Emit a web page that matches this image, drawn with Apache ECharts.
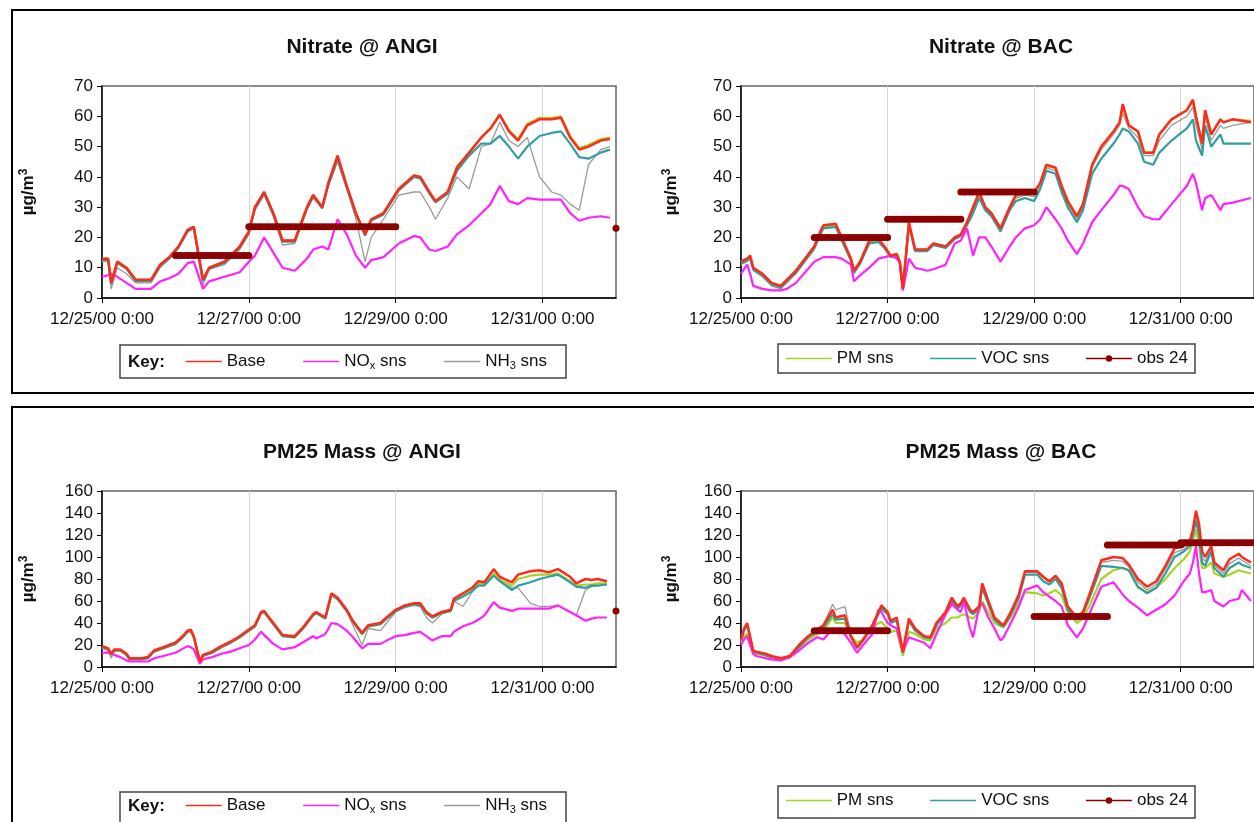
<!DOCTYPE html>
<html>
<head>
<meta charset="utf-8">
<script src="https://cdn.jsdelivr.net/npm/echarts@6/dist/echarts.min.js"></script>
<style>
html, body { margin: 0; padding: 0; background: #fff; }
#chart { width: 1254px; height: 822px; }
</style>
</head>
<body>
<div id="chart"></div>
<script>
// hours since 12/25/00 0:00
const xTickHours = [0, 48, 96, 144];
const xTickLabels = ['12/25/00 0:00', '12/27/00 0:00', '12/29/00 0:00', '12/31/00 0:00'];

// Nitrate @ ANGI
const hoursNitAngi = [0, 2, 3, 5, 8, 11, 16, 19, 22, 25, 28, 30, 33, 35, 40, 45, 48, 50, 53, 56, 59, 63, 67, 69, 72, 74, 77, 80, 83, 86, 88, 92, 97, 102, 104, 107, 109, 113, 116, 120, 124, 127, 130, 133, 136, 139, 143, 147, 150, 153, 156, 159, 163, 166];
const baseNitAngi = [13, 13, 5, 12, 10, 6, 6, 11, 13.5, 17, 22.5, 23.5, 6, 10, 12, 17, 22, 30, 35, 28, 19, 19, 30, 34, 30, 38, 47, 37, 28, 21, 26, 28, 36, 40.5, 40, 35, 32, 35, 43, 48, 53, 56, 60.5, 55, 52, 57, 59, 59, 59.5, 53, 49, 50, 52, 52.5];
const noxNitAngi = [7, 7.5, 8, 7, 5, 3, 3, 5.5, 6.5, 8, 11.5, 12, 3, 5.5, 7, 8.5, 12, 14, 20, 15, 10, 9, 13, 16, 17, 16, 26, 21, 14, 10, 12.5, 13.5, 18, 20.5, 20, 16, 15.5, 17, 21, 24, 28, 31, 37, 32, 31, 33, 32.5, 32.5, 32.5, 28, 25.5, 26.5, 27, 26.5];
const nh3NitAngi = [12, 12, 3, 10, 8, 5, 5, 10, 13, 16.5, 22, 23, 4, 9.5, 11, 16, 21, 29, 34, 27, 17.5, 18, 29, 33, 30, 37, 45, 36, 26, 12, 20, 26, 34, 35, 35, 30, 26, 33, 40, 36, 50, 51, 58, 52, 50, 53, 40, 35, 34, 31, 29, 44, 49, 50];
const pmNitAngi = [13, 13, 5, 12, 10, 6, 6, 11, 13.5, 17, 22.5, 23.5, 6, 10, 12, 17, 22, 30, 35, 28, 19, 19, 30, 34, 30, 38, 47, 37, 28, 21, 26, 28, 36, 40.5, 40, 35, 32, 35, 43.5, 48, 53, 56, 60.5, 55.5, 52.5, 57.5, 59.5, 59.5, 60, 53.5, 49.5, 50.5, 52.5, 53];
const vocNitAngi = [12.6, 12.6, 4.6, 11.6, 9.6, 5.6, 5.6, 10.6, 13, 16.6, 22, 23, 5.6, 9.6, 11.6, 16.6, 21.6, 29.6, 34.5, 27.6, 18.6, 18.6, 29.6, 33.5, 29.6, 37.5, 46, 36.5, 27.6, 20.6, 25.6, 27.6, 35.5, 40, 39.5, 34.5, 31.6, 34.5, 42, 47, 51, 51, 53.5, 50, 46, 50, 53.5, 54.5, 55, 51, 46.5, 46, 48, 49];
const obsNitAngi = [[24, 48, 14], [48, 96, 23.5], [168, 168, 23]];

// Nitrate @ BAC
const hoursNitBac = [0, 2, 3, 4, 7, 10, 13, 15, 18, 24, 26, 27, 31, 33, 36, 37, 39, 42, 45, 47, 49, 51, 52, 53, 55, 57, 61, 63, 67, 70, 72, 74, 76, 78, 80, 82, 85, 88, 90, 93, 96, 98, 100, 103, 105, 107, 110, 112, 115, 118, 122, 124, 125, 127, 130, 132, 135, 137, 141, 146, 148, 149, 151, 152, 154, 157, 158, 161, 167];
const baseNitBac = [12, 13, 14, 10, 8, 5, 4, 6, 9, 17, 22, 24, 24.5, 20, 13, 9, 12, 19, 19.5, 17, 14, 14.5, 12, 3, 25, 16, 16, 18, 17, 20, 21, 25, 30, 35, 30, 28, 23, 30, 34, 35, 35, 38, 44, 43, 37, 32, 27, 31, 44, 50, 55, 58, 64, 57, 55, 48, 48, 54, 59, 62, 65.5, 60, 51, 62, 54, 59, 58, 59, 58];
const noxNitBac = [8, 11, 8, 4, 3, 2.5, 2.5, 3, 5, 12, 13, 13.5, 13.5, 13, 11, 5.5, 7.5, 10, 13, 13.5, 14, 13, 12, 2.5, 13, 10, 9, 9.5, 11, 18, 19, 23, 14, 20, 20, 17, 12, 17, 20, 23, 24, 26, 30, 26, 23, 19, 14.5, 18, 25, 29, 34, 37, 37, 36, 30, 27, 26, 26, 31, 37, 41, 38, 29, 33, 34, 29, 31, 31.5, 33];
const nh3NitBac = [11, 12, 13, 9, 7, 4, 3, 5, 8, 16, 21, 23, 23.5, 19, 12, 8, 11, 18, 18.5, 16.5, 13.5, 14, 11.5, 3, 24, 15.5, 15.5, 17.5, 16.5, 19.5, 20.5, 24.5, 29, 34, 29, 27, 22, 29, 33, 34, 33.5, 37, 43, 42, 36, 31, 26, 30, 43, 49, 54, 57, 61, 56, 53, 47, 47, 52, 57, 60, 63, 57, 49, 60, 52, 57, 56, 57, 58];
const pmNitBac = [12, 13, 13.5, 10, 8, 5, 4, 6, 9, 17, 22, 23.5, 24, 19.5, 13, 9, 12, 18.5, 19, 17, 14, 14.5, 12, 3, 24.5, 16, 16, 18, 17, 20, 21, 25, 30, 34.5, 30, 28, 23, 30, 33.5, 34.5, 34.5, 38, 43.5, 43, 37, 32, 27, 31, 44, 50, 55, 58, 63.5, 57, 55, 48, 48, 54, 59, 62, 65, 60, 51, 62, 54, 59, 58, 59, 58.5];
const vocNitBac = [11.5, 12.5, 13, 9.5, 7.5, 4.5, 3.5, 5.5, 8.5, 16.5, 21, 23, 23.5, 19, 12.5, 8.5, 11.5, 18, 18.5, 16.5, 13.5, 14, 11.5, 3, 24, 15.5, 15.5, 17.5, 16.5, 19.5, 20.5, 24, 28, 33, 29, 27, 22, 29, 32, 33, 32, 36, 42, 41, 35, 30, 25, 29, 41, 46, 51, 54, 56, 55, 51, 45, 44, 48, 52, 56, 59, 52, 47, 57, 50, 54, 51, 51, 51];
const obsNitBac = [[24, 48, 20], [48, 72, 26], [72, 96, 35]];

// PM25 Mass @ ANGI
const hoursPmAngi = [0, 2, 3, 4, 6, 8, 9, 13, 15, 17, 20, 24, 26, 28, 29, 30, 32, 33, 36, 39, 42, 45, 48, 50, 52, 53, 56, 59, 63, 66, 69, 70, 73, 75, 77, 80, 82, 85, 87, 91, 93, 96, 99, 102, 104, 106, 108, 111, 114, 115, 118, 121, 123, 125, 128, 130, 134, 136, 140, 143, 146, 149, 153, 155, 158, 160, 162, 165];
const basePmAngi = [19, 17, 12, 16, 16, 12, 8, 8, 9, 15, 18, 22, 27, 33, 34, 28, 5, 11, 14, 19, 23, 28, 34, 38, 50, 51, 40, 29, 28, 37, 48, 50, 45, 67, 63, 52, 42, 31, 38, 40, 45, 52, 56, 58, 58, 50, 46, 50, 52, 62, 67, 72, 78, 77, 89, 82, 77, 84, 87, 88, 86, 89, 82, 76, 80, 79, 80, 78];
const noxPmAngi = [13, 13, 13, 11, 9, 6, 5, 5, 5, 8, 10, 13, 16, 19, 18, 16, 3, 7, 9, 12, 14, 17, 20, 25, 32, 29, 21, 16, 18, 23, 28, 26, 30, 40, 39, 33, 27, 17, 21, 21, 24, 28, 29, 31, 32, 28, 24, 28, 28, 32, 37, 40, 43, 47, 59, 54, 51, 53, 53, 53, 53, 56, 50, 47, 42, 44, 45, 45];
const nh3PmAngi = [17, 15, 8, 14, 15, 11, 7, 7, 8, 14, 17, 21, 26, 32, 33, 27, 4, 10, 13, 18, 22, 27, 33, 37, 49, 50, 39, 28, 27, 36, 47, 49, 44, 65, 61, 50, 38, 20, 35, 33, 40, 50, 54, 56, 55, 45, 40, 48, 51, 60, 55, 68, 76, 75, 84, 80, 72, 72, 58, 55, 55, 56, 50, 47, 70, 73, 74, 75];
const pmPmAngi = [18, 16, 11, 15, 15, 11, 7, 7, 8, 14, 17, 21, 26, 32, 33, 27, 5, 10, 13, 18, 22, 27, 33, 37, 49, 50, 39, 28, 27, 36, 47, 49, 44, 66, 62, 51, 41, 30, 37, 39, 44, 51, 55, 57, 57, 49, 45, 49, 51, 61, 66, 71, 76, 75, 85, 79, 74, 80, 83, 84, 84, 85, 78, 74, 75, 75, 76, 76];
const vocPmAngi = [18, 16, 11, 15, 15, 11, 7, 7, 8, 14, 17, 21, 26, 32, 33, 27, 5, 10, 13, 18, 22, 27, 33, 37, 49, 50, 39, 28, 27, 36, 47, 49, 44, 66, 62, 51, 41, 30, 37, 39, 44, 51, 55, 57, 56, 49, 45, 49, 51, 60, 64, 69, 74, 74, 83, 78, 70, 74, 77, 80, 82, 84, 77, 73, 72, 74, 74, 75];
const obsPmAngi = [[168, 168, 51]];

// PM25 Mass @ BAC
const hoursPmBac = [0, 1, 2, 4, 5, 8, 10, 13, 16, 19, 22, 25, 27, 30, 31, 34, 36, 38, 40, 43, 45, 46, 48, 49, 51, 53, 55, 57, 60, 62, 64, 67, 69, 71, 72, 73, 75, 76, 78, 79, 81, 83, 85, 86, 88, 91, 93, 97, 99, 101, 103, 105, 107, 110, 112, 114, 118, 122, 125, 127, 130, 133, 136, 139, 142, 145, 147, 148, 149, 150, 151, 152, 154, 155, 158, 160, 163, 164, 167];
const basePmBac = [25, 35, 40, 15, 14, 12, 10, 8, 10, 20, 28, 34, 38, 52, 45, 47, 28, 18, 25, 38, 50, 56, 50, 42, 45, 14, 44, 35, 28, 27, 40, 50, 63, 55, 58, 63, 52, 50, 55, 76, 60, 45, 40, 38, 48, 66, 87, 87, 82, 78, 83, 76, 55, 45, 50, 65, 97, 100, 99, 93, 80, 73, 78, 92, 108, 110, 115, 125, 142, 130, 105, 100, 110, 95, 88, 98, 103, 100, 95];
const noxPmBac = [20, 25, 28, 12, 10, 8, 7, 6, 9, 15, 22, 27, 25, 35, 33, 30, 22, 13, 20, 30, 52, 50, 40, 38, 35, 14, 27, 25, 22, 17, 30, 48, 57, 52, 50, 60, 35, 27, 55, 58, 45, 35, 24, 27, 38, 55, 70, 74, 68, 64, 60, 55, 38, 27, 35, 48, 73, 77, 66, 60, 54, 47, 52, 57, 65, 78, 85, 95, 110, 85, 68, 68, 70, 60, 55, 60, 62, 70, 60];
const nh3PmBac = [24, 34, 39, 14, 13, 11, 9, 7, 9, 19, 27, 33, 38, 57, 52, 55, 30, 17, 24, 37, 48, 54, 49, 41, 44, 13, 43, 34, 27, 26, 39, 49, 62, 54, 57, 62, 51, 49, 54, 74, 59, 44, 39, 37, 47, 65, 86, 86, 81, 77, 82, 75, 54, 44, 49, 64, 95, 97, 96, 91, 77, 70, 75, 89, 104, 107, 112, 122, 138, 126, 100, 96, 107, 93, 85, 94, 99, 97, 92];
const pmPmBac = [22, 28, 30, 12, 12, 10, 9, 7, 9, 17, 25, 30, 33, 45, 40, 40, 28, 22, 25, 35, 40, 41, 35, 32, 33, 10, 32, 30, 25, 24, 35, 40, 45, 45, 47, 48, 45, 44, 50, 60, 50, 40, 37, 36, 44, 58, 68, 67, 65, 67, 70, 65, 50, 40, 44, 55, 80, 88, 90, 88, 72, 68, 72, 80, 90, 98, 105, 115, 125, 110, 90, 90, 95, 85, 82, 84, 88, 87, 85];
const vocPmBac = [24, 33, 38, 14, 13, 11, 9, 7, 9, 18, 27, 32, 36, 48, 43, 44, 27, 17, 24, 36, 48, 53, 48, 40, 42, 13, 42, 33, 27, 26, 38, 48, 60, 53, 56, 60, 50, 48, 53, 72, 57, 43, 38, 37, 46, 63, 84, 84, 78, 75, 80, 72, 52, 43, 48, 62, 92, 91, 90, 88, 73, 67, 72, 85, 100, 105, 110, 120, 133, 120, 95, 92, 105, 90, 82, 90, 95, 93, 90];
const obsPmBac = [[24, 48, 33], [96, 120, 46], [120, 144, 111], [144, 168, 113]];

const FONT = '"Liberation Sans", Arial, sans-serif';
const colors = {
    base: '#ff2a1a',
    nox: '#ff22ff',
    nh3: '#9a9a9a',
    pm: '#a8d228',
    voc: '#2f9f9f',
    obs: '#8b0000',
};

const panels = [
    { title: 'Nitrate @ ANGI', left: 102, top: 86, height: 212, max: 70, step: 10, nameGap: 64,
      hours: hoursNitAngi, base: baseNitAngi, nox: noxNitAngi, nh3: nh3NitAngi, pm: pmNitAngi, voc: vocNitAngi, obs: obsNitAngi },
    { title: 'Nitrate @ BAC', left: 741, top: 86, height: 212, max: 70, step: 10, nameGap: 60,
      hours: hoursNitBac, base: baseNitBac, nox: noxNitBac, nh3: nh3NitBac, pm: pmNitBac, voc: vocNitBac, obs: obsNitBac },
    { title: 'PM25 Mass @ ANGI', left: 102, top: 491, height: 176, max: 160, step: 20, nameGap: 64,
      hours: hoursPmAngi, base: basePmAngi, nox: noxPmAngi, nh3: nh3PmAngi, pm: pmPmAngi, voc: vocPmAngi, obs: obsPmAngi },
    { title: 'PM25 Mass @ BAC', left: 741, top: 491, height: 176, max: 160, step: 20, nameGap: 60,
      hours: hoursPmBac, base: basePmBac, nox: noxPmBac, nh3: nh3PmBac, pm: pmPmBac, voc: vocPmBac, obs: obsPmBac },
];

function pairs(hours, vals) {
    return hours.map((h, i) => [h, vals[i]]);
}

// each obs entry is an averaged sample: [startHour, endHour, value]
function obsPairs(segs) {
    const out = [];
    segs.forEach(([a, b, v]) => {
        for (let h = a; h <= b; h++) out.push([h, v]);
        out.push([b + 0.5, null]);
    });
    return out;
}

const grids = [], xAxes = [], yAxes = [], series = [], graphics = [];

panels.forEach((p, i) => {
    grids.push({
        left: p.left, top: p.top, width: 514, height: p.height,
        show: true, borderColor: '#666', borderWidth: 1.5,
    });
    xAxes.push({
        gridIndex: i, type: 'value', min: 0, max: 168, interval: 24,
        axisLine: { lineStyle: { color: '#000', width: 1.5 } },
        axisTick: { customValues: xTickHours, length: 5, lineStyle: { color: '#000' } },
        axisLabel: {
            customValues: xTickHours,
            formatter: v => xTickLabels[xTickHours.indexOf(v)] || '',
            fontSize: 17, fontFamily: FONT, color: '#111', margin: 13,
        },
        splitLine: { show: true, lineStyle: { color: '#d4d4d4', width: 1 } },
    });
    yAxes.push({
        gridIndex: i, type: 'value', min: 0, max: p.max, interval: p.step,
        axisLine: { show: true, lineStyle: { color: '#000', width: 1.5 } },
        axisTick: { show: true, length: 5, lineStyle: { color: '#000' } },
        axisLabel: { fontSize: 17, fontFamily: FONT, color: '#111', margin: 9 },
        splitLine: { show: false },
        name: '{a|µg/m}{b|3}',
        nameLocation: 'middle', nameRotate: 90, nameGap: p.nameGap,
        nameTextStyle: {
            rich: {
                a: { fontSize: 17, fontWeight: 'bold', fontFamily: FONT, color: '#111' },
                b: { fontSize: 12, fontWeight: 'bold', fontFamily: FONT, color: '#111', padding: [0, 0, 8, 0] },
            },
        },
    });
    const line = (name, vals, color, width) => ({
        name, type: 'line', xAxisIndex: i, yAxisIndex: i,
        data: pairs(p.hours, vals), symbol: 'none',
        lineStyle: { color, width }, itemStyle: { color },
    });
    series.push(
        line('NH3 sns', p.nh3, colors.nh3, 1.3),
        line('PM sns', p.pm, colors.pm, 2.2),
        line('VOC sns', p.voc, colors.voc, 2.2),
        line('NOx sns', p.nox, colors.nox, 2.2),
        line('Base', p.base, colors.base, 2.5),
        {
            name: 'obs 24', type: 'line', xAxisIndex: i, yAxisIndex: i,
            data: obsPairs(p.obs), symbol: 'circle', symbolSize: 7, showSymbol: true,
            lineStyle: { color: colors.obs, width: 4 }, itemStyle: { color: colors.obs },
        }
    );
    graphics.push({
        type: 'text', x: p.left + 260, y: p.top - 39,
        style: { text: p.title, fontSize: 21, fontWeight: 'bold', fontFamily: FONT, fill: '#111',
                 align: 'center', textAlign: 'center', verticalAlign: 'middle', textVerticalAlign: 'middle' },
    });
});

// frames and legend boxes
const box = (x, y, w, h, lw, c) => ({
    type: 'rect', shape: { x, y, width: w, height: h },
    style: { fill: null, stroke: c, lineWidth: lw }, silent: true,
});
graphics.push(
    box(12, 10, 1260, 383, 2, '#000'),
    box(12, 407, 1260, 440, 2, '#000'),
    box(120, 345, 446, 33, 1.5, '#444'),
    box(778, 344, 417, 29, 1.5, '#444'),
    box(120, 792, 446, 40, 1.5, '#444'),
    box(778, 786, 417, 32, 1.5, '#444')
);
[362, 806].forEach(y => graphics.push({
    type: 'text', x: 128, y,
    style: { text: 'Key:', fontSize: 17, fontWeight: 'bold', fontFamily: FONT, fill: '#111',
             verticalAlign: 'middle', textVerticalAlign: 'middle' },
}));

const legendText = {
    fontSize: 17, fontFamily: FONT, color: '#111',
    rich: {
        t: { fontSize: 17, fontFamily: FONT, color: '#111' },
        s: { fontSize: 11, fontFamily: FONT, color: '#111', padding: [9, 0, 0, 0] },
    },
};
const legendFmt = n => n === 'NOx sns' ? '{t|NO}{s|x}{t| sns}'
    : n === 'NH3 sns' ? '{t|NH}{s|3}{t| sns}' : '{t|' + n + '}';
// plain lines in the key, only obs 24 keeps its dot
const legendBase = {
    orient: 'horizontal', padding: 0, itemWidth: 36, itemHeight: 8,
    selectedMode: false, formatter: legendFmt, textStyle: legendText,
    lineStyle: { width: 1.5 }, itemStyle: { opacity: 0 },
};
const leftKey = ['Base', 'NOx sns', 'NH3 sns'];
const rightKey = ['PM sns', 'VOC sns', { name: 'obs 24', itemStyle: { opacity: 1 } }];

const chart = echarts.init(document.getElementById('chart'));
chart.setOption({
    animation: false,
    backgroundColor: '#fff',
    grid: grids,
    xAxis: xAxes,
    yAxis: yAxes,
    legend: [
        Object.assign({}, legendBase, { left: 185, top: 353, itemGap: 37, data: leftKey }),
        Object.assign({}, legendBase, { left: 785, top: 350, itemGap: 36, itemWidth: 46, data: rightKey }),
        Object.assign({}, legendBase, { left: 185, top: 797, itemGap: 37, data: leftKey }),
        Object.assign({}, legendBase, { left: 785, top: 792, itemGap: 36, itemWidth: 46, data: rightKey }),
    ],
    graphic: graphics,
    series: series,
});
</script>
</body>
</html>
